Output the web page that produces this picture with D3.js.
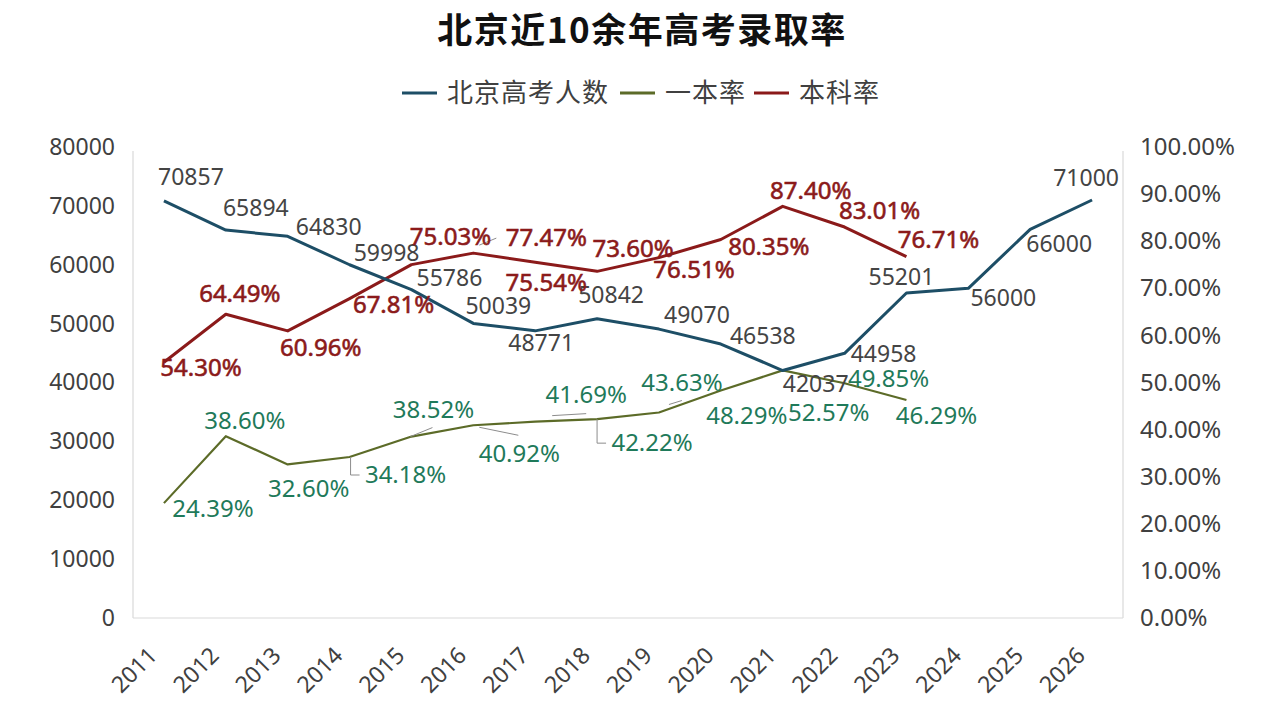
<!DOCTYPE html>
<html>
<head>
<meta charset="utf-8">
<script src="https://cdn.jsdelivr.net/npm/d3@7"></script>
<style>
  body { margin: 0; background: #fff; }
  svg { display: block; font-family: "Noto Sans", "Noto Sans CJK SC", sans-serif; }
</style>
</head>
<body>
<div id="chart"></div>
<script>
// chart data
const years = ["2011", "2012", "2013", "2014", "2015", "2016", "2017", "2018",
    "2019", "2020", "2021", "2022", "2023", "2024", "2025", "2026"];
const applicants = [70857, 65894, 64830, 59998, 55786, 50039, 48771, 50842,
    49070, 46538, 42037, 44958, 55201, 56000, 66000, 71000];
const firstTierRate = [24.39, 38.60, 32.60, 34.18, 38.52, 40.92, 41.69, 42.22,
    43.63, 48.29, 52.57, 49.85, 46.29];
const bachelorRate = [54.30, 64.49, 60.96, 67.81, 75.03, 77.47, 75.54, 73.60,
    76.51, 80.35, 87.40, 83.01, 76.71];
const leftTicks = [0, 10000, 20000, 30000, 40000, 50000, 60000, 70000, 80000];
const rightTicks = [0, 10, 20, 30, 40, 50, 60, 70, 80, 90, 100];
const seriesNames = ["北京高考人数", "一本率", "本科率"];

// label placement (offset of label centre from its point)
const applicantLabelPos = [[27,-24],[30,-22],[41,-10],[37,-12],[38,-12],[25,-18],[6,12],[14,-24],
    [38,-14],[42,-8],[33,13],[39,0],[-5,-16],[35,9],[29,14],[-6,-22]];
const bachelorLabelPos = [[37,5],[14,-21],[33,16],[44,6],[39,-28],[73,-16],[11,20],[36,-23],
    [35,12],[48,7],[28,-16],[35,-17],[32,-17]];
const firstTierLabelPos = [[49,5],[19,-16],[21,24],[56,17],[22,-27],[46,28],[51,-27],[55,23],
    [23,-30],[26,25],[46,42],[44,-5],[30,15]];
// leader lines (index -> path relative to point)
const leaders = {
    firstTier: {3: [[1,0],[1,18],[10,18]], 4: [[-1,0],[21,-9]], 5: [[6,2],[45,10]],
        6: [[17,-6],[51,-8]], 7: [[0,0],[0,24],[9,24]], 8: [[10,-8],[23,-12]]},
    bachelor: {5: [[6,-8],[23,-15]]}
};

const colors = {blue: "#1d4e66", green: "#5c6b28", red: "#8b1a1a",
    greenText: "#1f7a5a", text: "#404040"};

const W = 1280, H = 722;
const svg = d3.select("#chart").append("svg")
    .attr("width", W)
    .attr("height", H);

const plot = {left: 133, right: 1123, top: 147, bottom: 618};

const x = d3.scalePoint()
    .domain(years)
    .range([plot.left, plot.right])
    .padding(0.5);
const yLeft = d3.scaleLinear().domain([0, 80000]).range([plot.bottom, plot.top]);
const yRight = d3.scaleLinear().domain([0, 100]).range([plot.bottom, plot.top]);

// title
svg.append("text")
    .attr("x", 642)
    .attr("y", 43)
    .attr("text-anchor", "middle")
    .style("font-family", "'Noto Sans CJK SC', sans-serif")
    .style("font-weight", 700)
    .style("font-size", "35px")
    .style("letter-spacing", "1.5px")
    .attr("fill", "#111")
    .text("北京近10余年高考录取率");

// legend
const legendItems = [
    {name: seriesNames[0], color: colors.blue, x: 402},
    {name: seriesNames[1], color: colors.green, x: 620},
    {name: seriesNames[2], color: colors.red, x: 754}
];
const legend = svg.append("g");
legendItems.forEach(d => {
    legend.append("line")
        .attr("x1", d.x).attr("x2", d.x + 35)
        .attr("y1", 93).attr("y2", 93)
        .attr("stroke", d.color)
        .attr("stroke-width", 3);
    legend.append("text")
        .attr("x", d.x + 45)
        .attr("y", 93)
        .attr("dy", "0.36em")
        .style("font-family", "'Noto Sans CJK SC', sans-serif")
        .style("font-size", "26px")
        .style("letter-spacing", "1px")
        .attr("fill", colors.text)
        .text(d.name);
});

// frame lines
const frame = svg.append("g").attr("stroke", "#d9d9d9").attr("stroke-width", 1.2);
frame.append("line").attr("x1", plot.left).attr("x2", plot.left)
    .attr("y1", plot.top + 4).attr("y2", plot.bottom);
frame.append("line").attr("x1", plot.right).attr("x2", plot.right)
    .attr("y1", plot.top + 4).attr("y2", plot.bottom);
frame.append("line").attr("x1", plot.left).attr("x2", plot.right)
    .attr("y1", plot.bottom).attr("y2", plot.bottom);

// axes
const axisLeft = svg.append("g")
    .attr("transform", `translate(${plot.left},0)`)
    .call(d3.axisLeft(yLeft).tickValues(leftTicks).tickSize(0).tickPadding(18)
        .tickFormat(d3.format("d")));
const axisRight = svg.append("g")
    .attr("transform", `translate(${plot.right},0)`)
    .call(d3.axisRight(yRight).tickValues(rightTicks).tickSize(0).tickPadding(17)
        .tickFormat(d => d.toFixed(2) + "%"));
const axisBottom = svg.append("g")
    .attr("transform", `translate(0,${plot.bottom})`)
    .call(d3.axisBottom(x).tickSize(0));

[axisLeft, axisRight, axisBottom].forEach(g => {
    g.select(".domain").remove();
    g.selectAll("text")
        .style("font-family", "'Noto Sans', sans-serif")
        .style("font-size", "23px")
        .attr("fill", colors.text);
});
axisRight.selectAll("text").style("font-size", "24px");

axisBottom.selectAll("text")
    .attr("text-anchor", "end")
    .attr("y", 0)
    .attr("dy", 0)
    .attr("transform", "translate(-6,39) rotate(-45)");

// lines
const blueData = applicants.map((v, i) => ({year: years[i], value: v}));
const greenData = firstTierRate.map((v, i) => ({year: years[i], value: v}));
const redData = bachelorRate.map((v, i) => ({year: years[i], value: v}));

const lineLeft = d3.line().x(d => x(d.year)).y(d => yLeft(d.value));
const lineRight = d3.line().x(d => x(d.year)).y(d => yRight(d.value));

svg.append("path").datum(greenData)
    .attr("d", lineRight)
    .attr("fill", "none")
    .attr("stroke", colors.green)
    .attr("stroke-width", 2.2)
    .attr("stroke-linejoin", "round");

svg.append("path").datum(redData)
    .attr("d", lineRight)
    .attr("fill", "none")
    .attr("stroke", colors.red)
    .attr("stroke-width", 3)
    .attr("stroke-linejoin", "round");

svg.append("path").datum(blueData)
    .attr("d", lineLeft)
    .attr("fill", "none")
    .attr("stroke", colors.blue)
    .attr("stroke-width", 3)
    .attr("stroke-linejoin", "round");

// leader lines
function drawLeaders(data, yScale, paths) {
    Object.keys(paths).forEach(k => {
        let d = data[+k];
        let px = x(d.year), py = yScale(d.value);
        svg.append("path")
            .attr("d", d3.line()(paths[k].map(p => [px + p[0], py + p[1]])))
            .attr("fill", "none")
            .attr("stroke", "#8c8c8c")
            .attr("stroke-width", 1);
    });
}
drawLeaders(greenData, yRight, leaders.firstTier);
drawLeaders(redData, yRight, leaders.bachelor);

// data labels
function drawLabels(data, yScale, pos, fmt, color, weight, size) {
    svg.append("g")
        .selectAll("text")
        .data(data)
        .enter()
        .append("text")
        .attr("x", (d, i) => x(d.year) + pos[i][0])
        .attr("y", (d, i) => yScale(d.value) + pos[i][1])
        .attr("dy", "0.36em")
        .attr("text-anchor", "middle")
        .style("font-family", "'Noto Sans', sans-serif")
        .style("font-size", size + "px")
        .attr("fill", color)
        .attr("stroke", weight ? color : "none")
        .attr("stroke-width", weight || 0)
        .text(d => fmt(d.value));
}
drawLabels(blueData, yLeft, applicantLabelPos, d => d, "#444", 0, 23);
drawLabels(redData, yRight, bachelorLabelPos, d => d.toFixed(2) + "%", colors.red, 0.6, 24);
drawLabels(greenData, yRight, firstTierLabelPos, d => d.toFixed(2) + "%", colors.greenText, 0, 24);
</script>
</body>
</html>
